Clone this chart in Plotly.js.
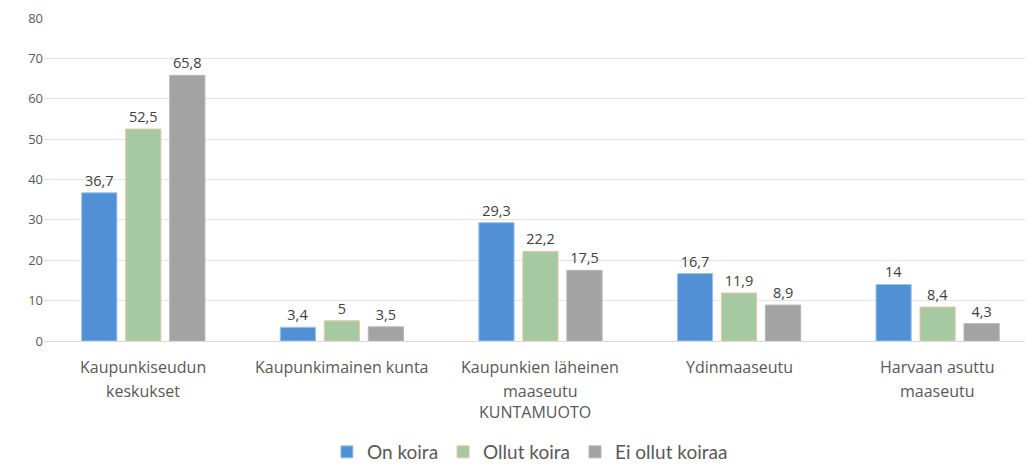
<!DOCTYPE html>
<html><head><meta charset="utf-8">
<script src="https://cdn.plot.ly/plotly-3.0.1.min.js"></script>
<style>html,body{margin:0;padding:0;background:#fff}#chart{width:1029px;height:471px}</style>
</head><body><div id="chart"></div>
<script>
const categories = ["Kaupunkiseudun<br>keskukset", "Kaupunkimainen kunta", "Kaupunkien läheinen<br>maaseutu", "Ydinmaaseutu", "Harvaan asuttu<br>maaseutu"];
const onKoira = [36.7, 3.4, 29.3, 16.7, 14];
const ollutKoira = [52.5, 5, 22.2, 11.9, 8.4];
const eiOllutKoiraa = [65.8, 3.5, 17.5, 8.9, 4.3];
const seriesNames = ["On koira", "Ollut koira", "Ei ollut koiraa"];
const xTitle = "KUNTAMUOTO";
const yTicks = [0, 10, 20, 30, 40, 50, 60, 70, 80];

const fmt = v => String(v).replace('.', ',');
const colors = ['#5190D5', '#A5C9A1', '#A3A3A3'];
const lines = ['#9CC3EE', '#E8C9A6', '#B5B5B5'];
const xs = categories.map((c, i) => i);
const data = [onKoira, ollutKoira, eiOllutKoiraa].map((vals, i) => ({
  type: 'bar', x: xs, y: vals, name: seriesNames[i],
  marker: {color: colors[i], line: {color: lines[i], width: 1}},
  text: vals.map(fmt), textposition: 'outside', cliponaxis: false,
  textfont: {family: 'Open Sans, sans-serif', size: 14.5, color: '#404040'},
  hoverinfo: 'none'
}));

const labelFont = {family: 'Open Sans, sans-serif', size: 16, color: '#595959'};
const annotations = [];
categories.forEach((c, i) => {
  c.split('<br>').forEach((line, j) => {
    annotations.push({x: i, xref: 'x', y: 0, yref: 'paper', yanchor: 'middle', xanchor: 'center',
      yshift: -26 - 24 * j, text: line, showarrow: false, font: labelFont});
  });
});
annotations.push({x: 0.5, xref: 'paper', y: 0, yref: 'paper', yanchor: 'middle', xanchor: 'center',
  yshift: -71, text: xTitle, showarrow: false, font: labelFont});

const layout = {
  width: 1029, height: 471,
  margin: {l: 44, r: 4, t: 18, b: 130},
  paper_bgcolor: '#fff', plot_bgcolor: '#fff',
  barmode: 'group', bargap: 0.335, bargroupgap: 0.2,
  showlegend: true,
  legend: {orientation: 'h', x: 0.515, xref: 'container', xanchor: 'center', y: 0.0, yref: 'container', yanchor: 'bottom',
    font: {family: 'Lato, sans-serif', size: 19, color: '#595959'}, itemwidth: 30, traceorder: 'normal'},
  xaxis: {
    range: [-0.5, 4.44], tickvals: xs, showticklabels: false,
    showgrid: false, zeroline: false, showline: false, ticks: ''
  },
  yaxis: {
    range: [0, 80], tickvals: yTicks, ticktext: yTicks.map(String),
    showgrid: true, gridcolor: '#E3E3E3', gridwidth: 1,
    zeroline: true, zerolinecolor: '#D9D9D9', showline: false, ticks: '',
    tickfont: {family: 'Open Sans, sans-serif', size: 13, color: '#595959'}
  },
  annotations: annotations,
  font: {family: 'Open Sans, sans-serif'}
};
Plotly.newPlot('chart', data, layout, {displayModeBar: false, staticPlot: true});
</script></body></html>
